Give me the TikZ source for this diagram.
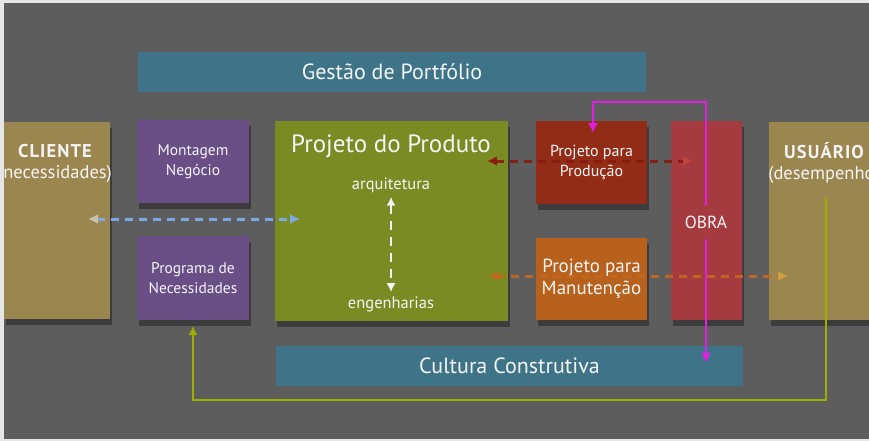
\documentclass[tikz,border=0pt]{standalone}
\usepackage{fontspec}
\setmainfont{PT Sans}
\usetikzlibrary{arrows.meta,shadows}
\definecolor{edgec}{HTML}{E6E6E6}
\definecolor{bgc}{HTML}{5D5D5D}
\definecolor{tealc}{HTML}{3F7488}
\definecolor{purplec}{HTML}{6A4F86}
\definecolor{greenc}{HTML}{7A8B24}
\definecolor{sandc}{HTML}{9C8650}
\definecolor{prodc}{HTML}{922C17}
\definecolor{manc}{HTML}{B7611D}
\definecolor{obrac}{HTML}{A53A3F}
\definecolor{bluel}{HTML}{7EA8E4}
\definecolor{beigel}{HTML}{C9C2A8}
\definecolor{redl}{HTML}{8A1A10}
\definecolor{redl2}{HTML}{C4463C}
\definecolor{orl}{HTML}{C8661C}
\definecolor{goldl}{HTML}{D2A040}
\definecolor{magl}{HTML}{E01EE6}
\definecolor{grl}{HTML}{9DB000}
\definecolor{txt}{HTML}{F4F4F4}
\begin{document}
\begin{tikzpicture}[x=1pt,y=-1pt,
  box/.style={anchor=north west, inner sep=0pt, outer sep=0pt, text=txt, align=center},
  sh/.style={drop shadow={shadow xshift=2pt, shadow yshift=-6pt, opacity=0.35, fill=black}},
  lbl/.style={text=txt, align=center, inner sep=0pt},
  dashln/.style={line width=3pt, dash pattern=on 8pt off 6pt}
]
\useasboundingbox (0,0) rectangle (869,441);
\fill[edgec] (0,0) rectangle (869,441);
\fill[bgc] (4,3) rectangle (869,439);

% boxes
\node[box, fill=tealc, minimum width=508pt, minimum height=40pt, font=\fontsize{22}{26}\selectfont] (gestao) at (138,52) {Gestão de Portfólio};
\node[box, fill=tealc, minimum width=467pt, minimum height=40pt, font=\fontsize{22}{26}\selectfont] (cultura) at (276,346) {Cultura Construtiva};
\node[box, sh, fill=sandc, minimum width=106pt, minimum height=197pt] (cliente) at (4,122) {};
\node[box, sh, fill=sandc, minimum width=112pt, minimum height=198pt] (usuario) at (769,122) {};
\node[box, sh, fill=purplec, minimum width=112pt, minimum height=83pt, font=\fontsize{15.5}{20}\selectfont] (montagem) at (137,120) {Montagem\\Negócio};
\node[box, sh, fill=purplec, minimum width=112pt, minimum height=84pt, font=\fontsize{15.5}{20}\selectfont] (programa) at (137,236) {Programa de\\Necessidades};
\node[box, sh, fill=greenc, minimum width=233pt, minimum height=200pt] (produto) at (275,121) {};
\node[box, sh, fill=prodc, minimum width=111pt, minimum height=83pt, font=\fontsize{16}{20}\selectfont] (producao) at (536,121) {Projeto para\\Produção};
\node[box, sh, fill=manc, minimum width=111pt, minimum height=82pt, font=\fontsize{19}{22}\selectfont] (manutencao) at (536,238) {Projeto para\\Manutenção};
\node[box, sh, fill=obrac, minimum width=71pt, minimum height=199pt] (obra) at (671,121) {};

% texts
\begin{scope}
\clip (cliente.north west) rectangle (cliente.south east);
\node[lbl, font=\fontsize{18.5}{21}\selectfont] (clientet) at (55,163) {{\bfseries\addfontfeatures{LetterSpace=6}CLIENTE}\\(necessidades)};
\end{scope}
\node[lbl, font=\fontsize{18.5}{21}\selectfont] (usuariot) at (824,163) {{\bfseries\addfontfeatures{LetterSpace=6}USUÁRIO}\\(desempenho)};
\node[lbl, font=\fontsize{25}{28}\selectfont] (produtot) at (391,146) {Projeto do Produto};
\node[lbl, font=\fontsize{16.5}{18}\selectfont] (arq) at (391,185) {arquitetura};
\node[lbl, font=\fontsize{16.5}{18}\selectfont] (eng) at (391,304) {engenharias};

% coordinates for connector ends
\coordinate (c1) at (88,219);
\coordinate (p1) at (300,219);
\coordinate (p2) at (487,161);
\coordinate (o2) at (693,161);
\coordinate (p3) at (488,276);
\coordinate (u3) at (788,276);
\coordinate (m1) at (593,133);
\coordinate (m2) at (593,102);
\coordinate (m3) at (706,102);
\coordinate (m4) at (706,363);
\coordinate (g1) at (826,198);
\coordinate (g2) at (826,400);
\coordinate (g3) at (193,400);
\coordinate (g4) at (193,326);

% white double arrow
\draw[txt, line width=2.5pt, dash pattern=on 9pt off 7pt, {Latex[length=9pt,width=9pt]}-{Latex[length=9pt,width=9pt]}] ([yshift=-4pt]arq.south) -- ([yshift=4pt]eng.north);

% dashed arrows
\draw[bluel, dashln, {Latex[length=10pt,width=10pt,color=beigel]}-{Latex[length=10pt,width=10pt]}] (c1) -- (p1);
\draw[redl, dashln, opacity=0.9, {Latex[length=10pt,width=10pt]}-{Latex[length=10pt,width=10pt,color=redl2]}] (p2) -- (o2);
\draw[orl, dashln, opacity=0.9, {Latex[length=10pt,width=10pt]}-{Latex[length=10pt,width=10pt,color=goldl]}] (p3) -- (u3);

% magenta
\draw[magl, line width=2.5pt, line join=miter, {Latex[length=10pt,width=10pt]}-{Latex[length=10pt,width=10pt]}] (m1) -- (m2) -- (m3) -- (m4);
\node[lbl, fill=obrac, minimum width=30pt, minimum height=33pt, font=\fontsize{17.5}{20}\selectfont] (obrat) at (706,222) {OBRA};

% green feedback loop
\draw[grl, line width=2.5pt, line join=miter, -{Latex[length=9pt,width=9pt]}] (g1) -- (g2) -- (g3) -- (g4);
\end{tikzpicture}
\end{document}
